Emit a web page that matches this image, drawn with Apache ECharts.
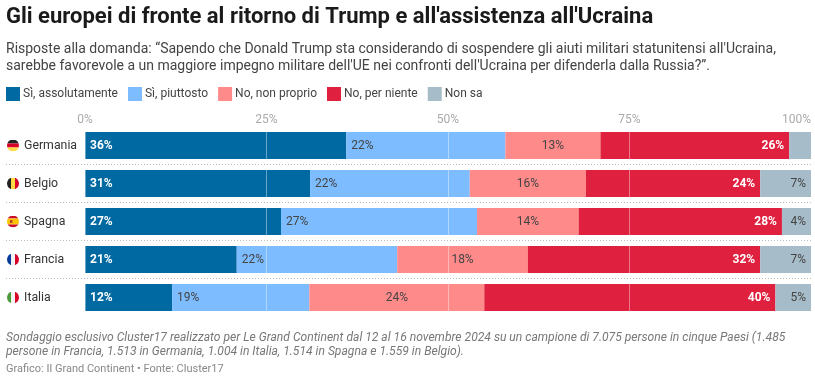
<!DOCTYPE html>
<html><head><meta charset="utf-8">
<style>html,body{margin:0;padding:0;background:#fff}#c{width:815px;height:386px}</style>
<script src="https://cdn.jsdelivr.net/npm/echarts@6/dist/echarts.min.js"></script>
</head><body><div id="c"></div>
<script>
const categories = ['Germania','Belgio','Spagna','Francia','Italia'];
const seriesNames = ['Sì, assolutamente','Sì, piuttosto','No, non proprio','No, per niente','Non sa'];
const siAssolutamente = [36,31,27,20.9,12];
const siPiuttosto = [21.9,22,27,22.1,18.9];
const noNonProprio = [13.1,16,14,18,24.1];
const noPerNiente = [26,24,28,32,40.1];
const nonSa = [3,7,4,7,4.9];
const axisTicks = [0,25,50,75,100];
const colors = ['#0069a1','#7dbcff','#ff8a8a','#df203e','#a6bcc8'];
const titleText = "Gli europei di fronte al ritorno di Trump e all'assistenza all'Ucraina";
const subtitleText = "Risposte alla domanda: “Sapendo che Donald Trump sta considerando di sospendere gli aiuti militari statunitensi all'Ucraina,\nsarebbe favorevole a un maggiore impegno militare dell'UE nei confronti dell'Ucraina per difenderla dalla Russia?”.";
const noteText = "Sondaggio esclusivo Cluster17 realizzato per Le Grand Continent dal 12 al 16 novembre 2024 su un campione di 7.075 persone in cinque Paesi (1.485\npersone in Francia, 1.513 in Germania, 1.004 in Italia, 1.514 in Spagna e 1.559 in Belgio).";
const sourceText = "Grafico: Il Grand Continent • Fonte: Cluster17";

function flag(body){
  const svg = '<svg xmlns="http://www.w3.org/2000/svg" width="24" height="24" viewBox="0 0 12 12"><defs><clipPath id="c"><circle cx="6" cy="6" r="6"/></clipPath></defs><g clip-path="url(#c)">'+body+'</g></svg>';
  return 'data:image/svg+xml;charset=utf-8,'+encodeURIComponent(svg);
}
const hb=(a,b,c,h1,h2)=>`<rect width="12" height="${h1}" fill="${a}"/><rect y="${h1}" width="12" height="${h2}" fill="${b}"/><rect y="${h1+h2}" width="12" height="${12-h1-h2}" fill="${c}"/>`;
const vb=(a,b,c)=>`<rect width="4" height="12" fill="${a}"/><rect x="4" width="4" height="12" fill="${b}"/><rect x="8" width="4" height="12" fill="${c}"/>`;
const flags = {
  Germania: flag(hb('#222','#d80027','#ffda44',4,4)),
  Belgio: flag(vb('#222','#ffda44','#d80027')),
  Spagna: flag(hb('#c8102e','#ffc400','#c8102e',3,6)+'<rect x="3" y="4.5" width="2.5" height="3" rx=".6" fill="#b5452a"/>'),
  Francia: flag(vb('#0a3a9c','#f2f2f2','#d80027')),
  Italia: flag(vb('#4a9a3a','#f2f2f2','#d80027'))
};
const rich = {name:{fontFamily:'Roboto',fontSize:12.3,color:'#333',padding:[1,0,0,2]}};
categories.forEach(c=>{rich['f'+c]={width:12,height:12,backgroundColor:{image:flags[c]}};});

const labelCfg = [
  {position:'insideLeft',distance:5,color:'#fff',fontWeight:'bold'},
  {position:'insideLeft',distance:5,color:'#444'},
  {position:'inside',color:'#444'},
  {position:'insideRight',distance:5,color:'#fff',fontWeight:'bold'},
  {position:'insideRight',distance:5,color:'#444'}
];
const data = [siAssolutamente,siPiuttosto,noNonProprio,noPerNiente,nonSa];
const chart = echarts.init(document.getElementById('c'),null,{renderer:'canvas'});
chart.setOption({
  animation:false,
  backgroundColor:'#fff',
  title:[
    {text:titleText,left:6,top:5,padding:0,textStyle:{fontFamily:'Roboto',fontSize:22,fontWeight:'bold',color:'#1a1a1a',lineHeight:25}},
    {text:subtitleText,left:6,top:41,padding:0,textStyle:{fontFamily:'Roboto',fontSize:14,fontWeight:'normal',color:'#444',lineHeight:17}},
    {text:noteText,left:6,top:331,padding:0,textStyle:{fontFamily:'Roboto',fontSize:12.1,fontStyle:'italic',fontWeight:'normal',color:'#777',lineHeight:14}},
    {text:sourceText,left:6,top:363,padding:0,textStyle:{fontFamily:'Roboto',fontSize:11,fontWeight:'normal',color:'#888',lineHeight:13}}
  ],
  legend:{left:6,top:87,padding:0,itemWidth:14,itemHeight:14,itemGap:10,icon:'rect',
    data:seriesNames,selectedMode:false,textStyle:{fontFamily:'Roboto',fontSize:12,color:'#444',padding:[0,0,0,-2]}},
  grid:{left:85,right:4,top:126.5,height:190,containLabel:false},
  xAxis:{type:'value',position:'top',min:axisTicks[0],max:axisTicks[axisTicks.length-1],interval:25,z:5,
    axisLine:{show:false},axisTick:{show:false},
    axisLabel:{formatter:'{value}%',fontFamily:'Roboto',fontSize:12,color:'#aaa',margin:1,alignMaxLabel:'right'},
    splitLine:{show:true,lineStyle:{color:'rgba(255,255,255,0.4)',width:1}}},
  yAxis:{type:'category',inverse:true,data:categories,
    axisLine:{show:false},axisTick:{show:false},splitLine:{show:false},
    axisLabel:{align:'left',margin:78,rich:rich,
      formatter:v=>`{f${v}|}{name|${' '+v}}`}},
  series:seriesNames.map((n,i)=>({
    name:n,type:'bar',stack:'t',barWidth:27,data:data[i],
    itemStyle:{color:colors[i]},
    label:Object.assign({show:true,fontFamily:'Roboto',fontSize:12,
      formatter:p=>p.value<3.5?'':Math.round(p.value)+'%'},labelCfg[i])
  }))
});
const seps = categories.slice(1).map((c,i)=>{
  const y = chart.convertToPixel({yAxisIndex:0},i) + 19;
  return {type:'line',silent:true,z:10,shape:{x1:6,x2:811,y1:y,y2:y},style:{stroke:'#bbb',lineWidth:1,lineDash:[1,2]}};
});
chart.setOption({graphic:seps});
</script></body></html>
